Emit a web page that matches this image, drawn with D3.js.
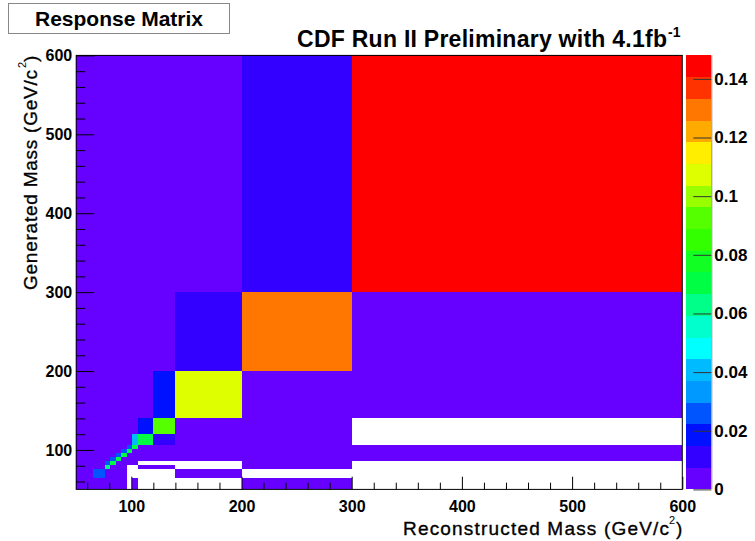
<!DOCTYPE html>
<html>
<head>
<meta charset="utf-8">
<script src="https://cdn.jsdelivr.net/npm/d3@7/dist/d3.min.js"></script>
<style>
    body { margin: 0; background: #ffffff; }
    svg { display: block; font-family: "Liberation Sans", Arial, Helvetica, sans-serif; }
</style>
</head>
<body>
<div id="chart"></div>
<script>
// Bin edges in GeV/c^2, used for both reconstructed (x) and generated (y) mass
var massEdges = [50, 65, 76, 81, 86, 91, 96, 101, 106, 120, 140, 200, 300, 600];

// Response matrix: one row per generated bin (bottom to top), one column per reconstructed bin
// 0 means an empty bin (left white)
var response = [
    [0.004, 0.004, 0.003, 0.003, 0.003, 0.003, 0,     0.002, 0,     0,     0,     0.002, 0    ],
    [0.004, 0.026, 0.004, 0.003, 0.003, 0.002, 0,     0,     0,     0,     0.002, 0,     0    ],
    [0.003, 0.004, 0.063, 0.004, 0.003, 0.002, 0,     0,     0.002, 0.002, 0,     0.002, 0    ],
    [0.003, 0.003, 0.026, 0.070, 0.004, 0.003, 0.002, 0.002, 0,     0,     0,     0.002, 0    ],
    [0.003, 0.003, 0.003, 0.026, 0.070, 0.004, 0.003, 0.002, 0.002, 0.002, 0.002, 0.002, 0.002],
    [0.003, 0.003, 0.003, 0.003, 0.026, 0.070, 0.004, 0.003, 0.002, 0.002, 0.002, 0.002, 0.002],
    [0.003, 0.003, 0.003, 0.003, 0.003, 0.026, 0.070, 0.004, 0.003, 0.002, 0.002, 0.002, 0.002],
    [0.003, 0.003, 0.003, 0.003, 0.003, 0.003, 0.026, 0.070, 0.004, 0.003, 0.002, 0.002, 0.002],
    [0.003, 0.003, 0.003, 0.003, 0.003, 0.003, 0.003, 0.041, 0.070, 0.011, 0.004, 0.003, 0    ],
    [0.003, 0.003, 0.003, 0.003, 0.003, 0.003, 0.003, 0.003, 0.018, 0.092, 0.004, 0.003, 0    ],
    [0.003, 0.003, 0.003, 0.003, 0.003, 0.003, 0.003, 0.003, 0.003, 0.018, 0.107, 0.004, 0.003],
    [0.004, 0.004, 0.003, 0.003, 0.003, 0.003, 0.003, 0.003, 0.003, 0.003, 0.011, 0.129, 0.004],
    [0.004, 0.004, 0.003, 0.003, 0.003, 0.003, 0.003, 0.003, 0.003, 0.003, 0.003, 0.011, 0.145]
];

// 20-step palette, lowest to highest
var paletteColors = ["#6600ff", "#3300ff", "#0011ff", "#0055ff", "#0099ff",
                     "#00bbff", "#00ffff", "#00ffcc", "#00ff88", "#00ff44",
                     "#11ff22", "#33ff00", "#55ff00", "#99ff00", "#ddff00",
                     "#ffee00", "#ffaa00", "#ff7700", "#ff3300", "#ff0000"];
var zMax = 0.148;
var zTicks = [0, 0.02, 0.04, 0.06, 0.08, 0.1, 0.12, 0.14];

var massTicks = [100, 200, 300, 400, 500, 600];
var massMinorTicks = [60, 80, 120, 140, 160, 180, 220, 240, 260, 280, 320, 340, 360, 380,
                      420, 440, 460, 480, 520, 540, 560, 580];

var svgWidth = 755;
var svgHeight = 541;

var svg = d3.select("#chart")
    .append("svg")
    .attr("width", svgWidth)
    .attr("height", svgHeight);

// Plot frame in pixels
var frame = { left: 76.2, right: 682.3, top: 55.4, bottom: 489.4 };

var xScale = d3.scaleLinear()
    .domain([50, 600])
    .range([frame.left, frame.right]);

var yScale = d3.scaleLinear()
    .domain([50, 600])
    .range([frame.bottom, frame.top]);

var zScale = d3.scaleLinear()
    .domain([0, zMax])
    .range([frame.bottom, frame.top]);

function colorFor(v) {
    var band = Math.min(paletteColors.length - 1, Math.floor(v / zMax * paletteColors.length));
    return paletteColors[band];
}

// Flatten matrix into cells
var cells = [];
response.forEach(function(row, j) {
    row.forEach(function(v, i) {
        if (v > 0) {
            cells.push({ x0: massEdges[i], x1: massEdges[i + 1], y0: massEdges[j], y1: massEdges[j + 1], v: v });
        }
    });
});

svg.append("g")
    .attr("shape-rendering", "crispEdges")
    .selectAll("rect")
    .data(cells)
    .enter()
    .append("rect")
    .attr("x", d => xScale(d.x0))
    .attr("y", d => yScale(d.y1))
    .attr("width", d => xScale(d.x1) - xScale(d.x0))
    .attr("height", d => yScale(d.y0) - yScale(d.y1))
    .attr("fill", d => colorFor(d.v));

// Frame
svg.append("rect")
    .attr("x", frame.left)
    .attr("y", frame.top)
    .attr("width", frame.right - frame.left)
    .attr("height", frame.bottom - frame.top)
    .attr("fill", "none")
    .attr("stroke", "#000")
    .attr("stroke-width", 1);

// Axes, ticks pointing inward
function styleAxis(g) {
    g.select(".domain").remove();
    g.selectAll(".tick line").attr("stroke", "#000");
    g.selectAll(".tick text")
        .attr("fill", "#000")
        .style("font-size", "16px")
        .style("font-weight", "bold");
}

svg.append("g")
    .attr("transform", `translate(0, ${frame.bottom})`)
    .call(d3.axisBottom(xScale).tickValues(massTicks).tickSize(-12.7).tickPadding(11).tickSizeOuter(0))
    .call(styleAxis);

svg.append("g")
    .attr("transform", `translate(0, ${frame.bottom})`)
    .call(d3.axisBottom(xScale).tickValues(massMinorTicks).tickSize(-6.7).tickFormat("").tickSizeOuter(0))
    .call(styleAxis);

svg.append("g")
    .attr("transform", `translate(${frame.left}, 0)`)
    .call(d3.axisLeft(yScale).tickValues(massTicks).tickSize(-18).tickPadding(4).tickSizeOuter(0))
    .call(styleAxis);

svg.append("g")
    .attr("transform", `translate(${frame.left}, 0)`)
    .call(d3.axisLeft(yScale).tickValues(massMinorTicks).tickSize(-9).tickFormat("").tickSizeOuter(0))
    .call(styleAxis);

// Colour bar
var barLeft = 685.7;
var barRight = 711.3;

svg.append("g")
    .attr("shape-rendering", "crispEdges")
    .selectAll("rect")
    .data(paletteColors)
    .enter()
    .append("rect")
    .attr("x", barLeft)
    .attr("y", (c, k) => zScale((k + 1) * zMax / paletteColors.length))
    .attr("width", barRight - barLeft)
    .attr("height", (c, k) => zScale(k * zMax / paletteColors.length) - zScale((k + 1) * zMax / paletteColors.length))
    .attr("fill", c => c);

svg.append("line")
    .attr("x1", barRight + 0.5).attr("x2", barRight + 0.5)
    .attr("y1", frame.top).attr("y2", frame.bottom)
    .attr("stroke", "#888");

var zAxisG = svg.append("g")
    .attr("transform", `translate(${barRight}, 0)`)
    .call(d3.axisRight(zScale).tickValues(zTicks).tickSize(-18).tickPadding(3).tickSizeOuter(0).tickFormat(d3.format("~g")))
    .call(styleAxis);
zAxisG.selectAll(".tick line").attr("stroke", "#333");
zAxisG.selectAll(".tick text").style("font-size", "17px");

// Axis titles (ROOT spreads glyphs a little, so fit to the measured length)
svg.append("text")
    .attr("x", 403)
    .attr("y", 535)
    .attr("textLength", 266)
    .attr("lengthAdjust", "spacing")
    .style("font-size", "19px")
    .style("stroke", "#000")
    .style("stroke-width", "0.35")
    .text("Reconstructed Mass (GeV/c");

svg.append("text")
    .attr("x", 669)
    .attr("y", 524)
    .style("font-size", "11px")
    .text("2");

svg.append("text")
    .attr("x", 676)
    .attr("y", 535)
    .style("font-size", "19px")
    .style("stroke", "#000")
    .style("stroke-width", "0.35")
    .text(")");

var yTitle = svg.append("g")
    .attr("transform", `translate(37, 290) rotate(-90)`);

yTitle.append("text")
    .attr("x", 0)
    .attr("y", 0)
    .attr("textLength", 220)
    .attr("lengthAdjust", "spacing")
    .style("font-size", "19px")
    .style("stroke", "#000")
    .style("stroke-width", "0.35")
    .text("Generated Mass (GeV/c");

yTitle.append("text")
    .attr("x", 222)
    .attr("y", -11)
    .style("font-size", "11px")
    .text("2");

yTitle.append("text")
    .attr("x", 228)
    .attr("y", 0)
    .style("font-size", "19px")
    .style("stroke", "#000")
    .style("stroke-width", "0.35")
    .text(")");

// Title
svg.append("text")
    .attr("x", 297)
    .attr("y", 47)
    .attr("textLength", 370)
    .attr("lengthAdjust", "spacing")
    .style("font-size", "23px")
    .style("font-weight", "bold")
    .text("CDF Run II Preliminary with 4.1fb");

svg.append("text")
    .attr("x", 668)
    .attr("y", 37)
    .style("font-size", "14px")
    .style("font-weight", "bold")
    .text("-1");

// Label box
svg.append("rect")
    .attr("x", 8.5)
    .attr("y", 3.5)
    .attr("width", 221)
    .attr("height", 30)
    .attr("fill", "#fff")
    .attr("stroke", "#888");

svg.append("text")
    .attr("x", 119)
    .attr("y", 26)
    .attr("text-anchor", "middle")
    .style("font-size", "21px")
    .style("font-weight", "bold")
    .text("Response Matrix");
</script>
</body>
</html>
